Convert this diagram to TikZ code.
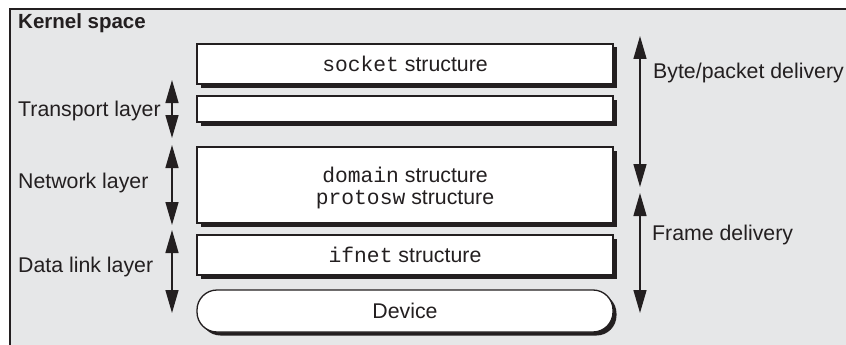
\documentclass[tikz,border=0pt]{standalone}
\usepackage{fontspec}
\setmainfont{Liberation Sans}
\setmonofont{Liberation Mono}
\usetikzlibrary{arrows.meta,shadows}
\definecolor{bgray}{HTML}{E6E7E8}
\definecolor{ink}{HTML}{231F20}
\begin{document}
\begin{tikzpicture}[x=1pt,y=-1pt,
  every node/.style={text=ink,font=\fontsize{21.3}{22.5}\selectfont},
  structbox/.style={draw=ink,fill=white,line width=1.3pt,minimum width=416pt,inner sep=0pt,
    drop shadow={shadow xshift=3.5pt,shadow yshift=-3.5pt,fill=ink,opacity=1}},
  lbl/.style={anchor=west,inner sep=0pt},
  dblarrow/.style={draw=ink,line width=1.4pt,{Triangle[length=23pt,width=13pt]}-{Triangle[length=23pt,width=13pt]}}
]
\useasboundingbox (0,0) rectangle (846,345);
\fill[bgray] (10,9) rectangle (846,345);
\draw[ink,line width=2.2pt] (10,345) -- (10,9) -- (846,9);

\node[lbl,font=\fontsize{20.5}{24}\selectfont\bfseries] (kernel) at (18,23) {Kernel space};

\node[structbox,minimum height=40pt] (socket) at (405,64) {\texttt{socket} structure};
\node[structbox,minimum height=26pt] (transport) at (405,109) {};
\node[structbox,minimum height=76pt] (network) at (405,185) {};
\node[align=center,inner sep=0pt] (networktext) at (405,188)
  {\texttt{domain} structure\\\texttt{protosw} structure};
\node[structbox,minimum height=40pt] (ifnet) at (405,255) {\texttt{ifnet} structure};
\node[structbox,minimum height=42pt,rounded corners=20pt] (device) at (405,311) {Device};

\node[lbl] (tl) at (18,111) {Transport layer};
\node[lbl] (nl) at (18,183) {Network layer};
\node[lbl] (dl) at (18,267) {Data link layer};
\node[lbl] (bp) at (653,73) {Byte/packet delivery};
\node[lbl] (fd) at (652,235) {Frame delivery};

\coordinate (ta) at (172,80);  \coordinate (tb) at (172,138);
\coordinate (na) at (172,145); \coordinate (nb) at (172,225);
\coordinate (da) at (172,230); \coordinate (db) at (172,313);
\coordinate (ba) at (640,36);  \coordinate (bb) at (640,187);
\coordinate (fa) at (640,193); \coordinate (fb) at (640,313);

\draw[dblarrow] (ta) -- (tb);
\draw[dblarrow] (na) -- (nb);
\draw[dblarrow] (da) -- (db);
\draw[dblarrow] (ba) -- (bb);
\draw[dblarrow] (fa) -- (fb);
\end{tikzpicture}
\end{document}
